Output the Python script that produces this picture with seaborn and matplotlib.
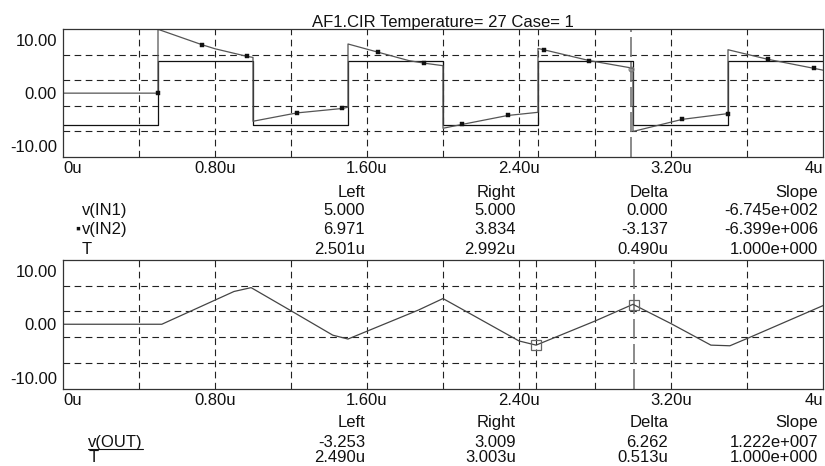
import numpy as np
import pandas as pd
import matplotlib
matplotlib.use("Agg")
import matplotlib.pyplot as plt
from matplotlib.lines import Line2D
import seaborn as sns

# ---------------- data ----------------
title = "AF1.CIR Temperature= 27 Case= 1"

t_in1 = [0, 0.5, 0.5, 1.0, 1.0, 1.5, 1.5, 2.0, 2.0, 2.5, 2.5, 3.0, 3.0, 3.5, 3.5, 4.0]
v_in1 = [-5, -5, 5, 5, -5, -5, 5, 5, -5, -5, 5, 5, -5, -5, 5, 5]

t_in2 = [0, 0.5, 0.5, 0.73, 0.80, 0.97, 1.0, 1.0, 1.23, 1.47, 1.5, 1.5, 1.66, 1.82, 1.9, 2.0,
         2.0, 2.1, 2.34, 2.5, 2.5, 2.53, 2.77, 3.0, 3.0, 3.26, 3.5, 3.5, 3.71, 3.95, 4.0]
v_in2 = [0, 0, 10.0, 7.6, 6.95, 5.75, 5.6, -4.4, -3.1, -2.4, -2.2, 7.7, 6.4, 5.1, 4.7, 4.3,
         -5.5, -4.9, -3.5, -3.0, 7.0, 6.8, 5.1, 3.9, -6.0, -4.1, -3.2, 6.8, 5.3, 3.9, 3.6]

t_in2_mark = [0.5, 0.73, 0.97, 1.23, 1.47, 1.66, 1.9, 2.1, 2.34, 2.53, 2.77, 3.26, 3.5, 3.71, 3.95]
v_in2_mark = [0, 7.6, 5.75, -3.1, -2.4, 6.4, 4.7, -4.9, -3.5, 6.8, 5.1, -4.1, -3.2, 5.3, 3.9]

t_out = [0, 0.52, 0.90, 0.99, 1.20, 1.42, 1.50, 1.87, 2.00, 2.40, 2.49, 2.80, 3.00, 3.20,
         3.41, 3.51, 3.61, 4.00]
v_out = [0, 0, 5.1, 5.7, 2.1, -1.7, -2.3, 2.2, 4.0, -2.6, -3.25, 0.5, 3.1, 0.1,
         -3.25, -3.35, -2.1, 2.9]

x_tick_vals = [0, 0.8, 1.6, 2.4, 3.2, 4.0]
x_tick_labels = ["0u", "0.80u", "1.60u", "2.40u", "3.20u", "4u"]
x_grid_vals = [0.4, 0.8, 1.2, 1.6, 2.0, 2.4, 2.8, 3.2, 3.6]
y_grid_vals = [-6, -2, 2, 6]
y_label_vals = [-8.3, 0, 8.3]
y_tick_labels = ["-10.00", "0.00", "10.00"]

col_headers = ["Left", "Right", "Delta", "Slope"]
top_rows = ["v(IN1)", "v(IN2)", "T"]
top_left = ["5.000", "6.971", "2.501u"]
top_right = ["5.000", "3.834", "2.992u"]
top_delta = ["0.000", "-3.137", "0.490u"]
top_slope = ["-6.745e+002", "-6.399e+006", "1.000e+000"]

bot_rows = ["v(OUT)", "T"]
bot_left = ["-3.253", "2.490u"]
bot_right = ["3.009", "3.003u"]
bot_delta = ["6.262", "0.513u"]
bot_slope = ["1.222e+007", "1.000e+000"]

cursor_top = [2.501, 2.992]
cursor_top_in2 = [6.971, 3.834]
cursor_bot = [2.490, 3.003]
cursor_bot_out = [-3.253, 3.009]

# ---------------- style ----------------
sns.set_style("white")
plt.rcParams["font.family"] = ["Liberation Sans", "DejaVu Sans"]
FS = 12
TXT = "#111111"
GRID = dict(color="#222222", linewidth=0.8, linestyle=(0, (6, 4)))

W, H = 825, 466
fig = plt.figure(figsize=(8.25, 4.66), dpi=100)
fig.patch.set_facecolor("white")


def fx(px):
    return px / W


def fy(py):
    return 1 - py / H


ax1 = fig.add_axes([fx(63), fy(157), (823 - 63) / W, (157 - 29.3) / H])
ax2 = fig.add_axes([fx(63), fy(388.5), (823 - 63) / W, (388.5 - 260) / H])


def style_axes(ax):
    ax.set_xlim(0, 4)
    ax.set_ylim(-10, 10)
    ax.set_xticks(x_tick_vals)
    ax.set_xticklabels(x_tick_labels)
    ax.set_xticks(x_grid_vals, minor=True)
    ax.xaxis.remove_overlapping_locs = False
    ax.set_yticks(y_label_vals)
    ax.set_yticklabels(y_tick_labels)
    ax.set_yticks(y_grid_vals, minor=True)
    ax.grid(False, which="major")
    ax.grid(True, which="minor", **GRID)
    ax.tick_params(which="both", length=0)
    ax.tick_params(axis="x", pad=3.2, labelsize=FS, labelcolor=TXT)
    ax.tick_params(axis="y", pad=4.3, labelsize=FS, labelcolor=TXT)
    labs = ax.get_xticklabels()
    labs[0].set_horizontalalignment("left")
    labs[-1].set_horizontalalignment("right")
    for s in ax.spines.values():
        s.set_color("#333333")
        s.set_linewidth(0.9)
    ax.set_xlabel("")
    ax.set_ylabel("")


# ---------------- top panel ----------------
df_in1 = pd.DataFrame({"t": t_in1, "v": v_in1})
df_in2 = pd.DataFrame({"t": t_in2, "v": v_in2})
df_mk = pd.DataFrame({"t": t_in2_mark, "v": v_in2_mark})

ax1.axvline(cursor_top[0], **GRID)
ax1.axvline(cursor_top[1], color="#777777", linewidth=1.2, linestyle=(0, (12, 3)))
sns.lineplot(data=df_in1, x="t", y="v", ax=ax1, estimator=None, sort=False,
             color="#111111", linewidth=0.9)
sns.lineplot(data=df_in2, x="t", y="v", ax=ax1, estimator=None, sort=False,
             color="#555555", linewidth=0.9)
sns.scatterplot(data=df_mk, x="t", y="v", ax=ax1, marker="s", s=10,
                color="#111111", edgecolor="#111111", linewidth=0.3, zorder=5)
ax1.plot([cursor_top[1]], [cursor_top_in2[1]], marker="o", markersize=3.5,
         markerfacecolor="none", markeredgecolor="#777777", markeredgewidth=0.8,
         linestyle="none", zorder=6)
style_axes(ax1)

# ---------------- bottom panel ----------------
df_out = pd.DataFrame({"t": t_out, "v": v_out})
ax2.axvline(cursor_bot[0], **GRID)
ax2.axvline(cursor_bot[1], color="#777777", linewidth=1.2, linestyle=(0, (12, 3)))
sns.lineplot(data=df_out, x="t", y="v", ax=ax2, estimator=None, sort=False,
             color="#444444", linewidth=0.9)
ax2.plot(cursor_bot, cursor_bot_out, marker="s", markersize=7.5,
         markerfacecolor="none", markeredgecolor="#666666", markeredgewidth=0.9,
         linestyle="none", zorder=6)
style_axes(ax2)

# ---------------- title ----------------
fig.text(fx(443), fy(26.7), title, ha="center", va="baseline", fontsize=FS, color=TXT)


def btext(x, y, s, ha="right"):
    return fig.text(fx(x), fy(y), s, ha=ha, va="baseline", fontsize=FS, color=TXT)


# ---------------- tables ----------------
col_right = [365, 515.7, 668.3, 818.3]

top_head_y = 196.7
top_row_y = [215.0, 234.3, 254.0]
for xr, h in zip(col_right, col_headers):
    btext(xr, top_head_y, h)
for i, name in enumerate(top_rows):
    btext(81.7, top_row_y[i], name, ha="left")
    for xr, col in zip(col_right, [top_left, top_right, top_delta, top_slope]):
        btext(xr, top_row_y[i], col[i])
fig.text(fx(75.3), fy(top_row_y[1] - 1.5), "\u25aa", ha="left", va="baseline",
         fontsize=FS - 2, color=TXT)

bot_head_y = 426.7
bot_row_y = [446.7, 462.0]
for xr, h in zip(col_right, col_headers):
    btext(xr, bot_head_y, h)
under_txt = None
for i, name in enumerate(bot_rows):
    t = btext(88.3, bot_row_y[i], name, ha="left")
    if i == 0:
        under_txt = t
    for xr, col in zip(col_right, [bot_left, bot_right, bot_delta, bot_slope]):
        btext(xr, bot_row_y[i], col[i])

# underline for v(OUT)
fig.canvas.draw()
bb = under_txt.get_window_extent(renderer=fig.canvas.get_renderer())
uy = 1 - (bot_row_y[0] + 2.5) / H
fig.add_artist(Line2D([bb.x0 / W, bb.x1 / W], [uy, uy], color=TXT,
                      linewidth=0.8, transform=fig.transFigure))

fig.savefig("out.png", dpi=100, facecolor="white")
